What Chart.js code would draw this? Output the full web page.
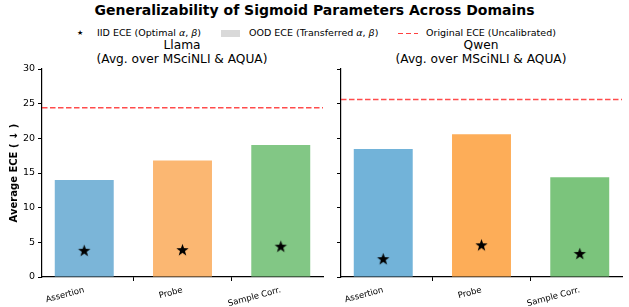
<!DOCTYPE html>
<html>
<head>
<meta charset="utf-8">
<script src="https://cdn.jsdelivr.net/npm/chart.js@4.4.1/dist/chart.umd.min.js"></script>
<style>
  body { margin: 0; width: 629px; height: 307px; position: relative; background: #fff; overflow: hidden;
         font-family: 'DejaVu Sans', sans-serif; color: #000; }
  #title { position: absolute; top: 0; left: 0; width: 629px; text-align: center;
           font-weight: bold; font-size: 14px; line-height: 21px; }
  .leg { position: absolute; top: 26px; font-size: 9.5px; line-height: 14px; white-space: nowrap; }
  .box { position: absolute; top: 30px; left: 221px; width: 19px; height: 7px; background: #d9d9d9; }
  .dash { position: absolute; top: 32.5px; left: 398px; width: 20px; height: 1.6px;
          background: repeating-linear-gradient(to right, rgba(255,0,0,0.75) 0 5.5px, transparent 5.5px 8px); }
  .sub { position: absolute; top: 39px; width: 300px; text-align: center; font-size: 12.2px; line-height: 13.5px; }
  #c1 { position: absolute; left: 0; top: 50px; }
  #c2 { position: absolute; left: 330px; top: 50px; }
</style>
</head>
<body>
<div id="title">Generalizability of Sigmoid Parameters Across Domains</div>
<div class="leg" style="left:77px;font-size:7px;top:26px">★</div>
<div class="leg" style="left:97px">IID ECE (Optimal <i>α</i>, <i>β</i>)</div>
<div class="box"></div>
<div class="leg" style="left:249px">OOD ECE (Transferred <i>α</i>, <i>β</i>)</div>
<div class="dash"></div>
<div class="leg" style="left:426px">Original ECE (Uncalibrated)</div>
<div class="sub" style="left:32px">Llama<br>(Avg. over MSciNLI &amp; AQUA)</div>
<div class="sub" style="left:331px">Qwen<br>(Avg. over MSciNLI &amp; AQUA)</div>
<canvas id="c1" width="330" height="257"></canvas>
<canvas id="c2" width="299" height="257"></canvas>
<script>
const categories = ['Assertion', 'Probe', 'Sample Corr.'];
const llamaOod = [14.0, 16.8, 19.05];
const llamaIid = [3.85, 3.95, 4.45];
const llamaOriginal = 24.4;
const qwenOod = [18.45, 20.6, 14.4];
const qwenIid = [2.65, 4.65, 3.4];
const qwenOriginal = 25.6;
const yTicks = [0, 5, 10, 15, 20, 25, 30];

const xMin = -0.43, xMax = 2.43;

// filled five point star for the IID markers
function makeStar(r) {
  const c = document.createElement('canvas');
  c.width = c.height = Math.ceil(r * 2 + 2);
  const g = c.getContext('2d');
  const cx = c.width / 2, cy = c.height / 2 + r * 0.1;
  g.beginPath();
  for (let i = 0; i < 10; i++) {
    const rad = i % 2 === 0 ? r : r * 0.4;
    const a = -Math.PI / 2 + i * Math.PI / 5;
    g.lineTo(cx + rad * Math.cos(a), cy + rad * Math.sin(a));
  }
  g.closePath();
  g.fillStyle = '#000';
  g.fill();
  return c;
}
const star = makeStar(6.5);

function panel(id, ood, iid, original, colors, showLabels, yWidth) {
  new Chart(document.getElementById(id), {
    type: 'bar',
    data: {
      datasets: [
        {
          type: 'line',
          data: [{ x: xMin, y: original }, { x: xMax, y: original }],
          borderColor: 'rgba(255,0,0,0.7)',
          borderWidth: 1.5,
          borderDash: [5.5, 2.5],
          pointRadius: 0,
          order: 0
        },
        {
          type: 'scatter',
          data: iid.map((v, i) => ({ x: i, y: v })),
          pointStyle: star,
          order: 1
        },
        {
          data: ood.map((v, i) => ({ x: i, y: v })),
          backgroundColor: colors,
          barPercentage: 0.6,
          categoryPercentage: 1,
          order: 2
        }
      ]
    },
    options: {
      responsive: false,
      animation: false,
      layout: { padding: { top: 19, right: 7, left: 0, bottom: 0 } },
      plugins: {
        legend: { display: false },
        tooltip: { enabled: false }
      },
      scales: {
        x: {
          type: 'linear',
          min: xMin,
          max: xMax,
          offset: false,
          afterBuildTicks: s => { s.ticks = categories.map((c, i) => ({ value: i })); },
          afterFit: s => { s.height = 30; },
          ticks: {
            callback: v => categories[v],
            minRotation: 15,
            maxRotation: 15,
            color: '#000',
            padding: 4,
            font: { family: 'DejaVu Sans', size: 8.5 }
          },
          grid: { drawOnChartArea: false, drawTicks: true, tickLength: 4, color: '#000' },
          border: { display: true, color: '#000', width: 1.2 }
        },
        y: {
          min: 0,
          max: 30,
          afterBuildTicks: s => { s.ticks = yTicks.map(v => ({ value: v })); },
          afterFit: s => { s.width = yWidth; },
          title: {
            display: showLabels,
            text: 'Average ECE ( ↓ )',
            color: '#000',
            font: { family: 'DejaVu Sans', size: 10, weight: 'bold' },
            padding: { top: 8, bottom: 0 }
          },
          ticks: {
            callback: v => showLabels ? v : '',
            color: '#000',
            padding: 3,
            font: { family: 'DejaVu Sans', size: 9.5 }
          },
          grid: { drawOnChartArea: false, drawTicks: true, tickLength: 4, color: '#000' },
          border: { display: true, color: '#000', width: 1.2 }
        }
      }
    }
  });
}

panel('c1', llamaOod, llamaIid, llamaOriginal,
  ['#7bb5d8', '#fbb772', '#82c785'], true, 42);
panel('c2', qwenOod, qwenIid, qwenOriginal,
  ['#72b3d9', '#fdad58', '#7bc47c'], false, 11);
</script>
</body>
</html>
